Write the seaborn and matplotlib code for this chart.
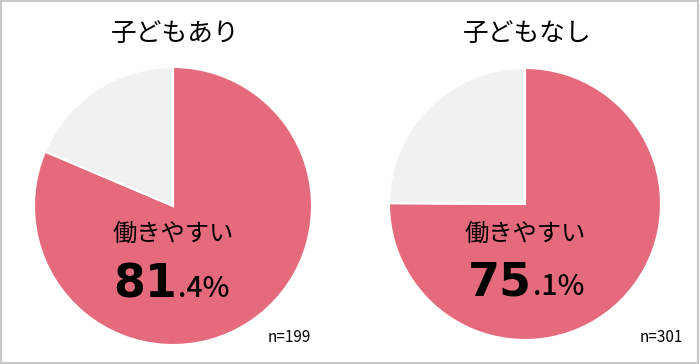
import matplotlib
matplotlib.use("Agg")
import matplotlib.pyplot as plt
import seaborn as sns
from matplotlib.patches import Rectangle

# data
groups = ["子どもあり", "子どもなし"]
yes_share = [81.4, 75.1]
sample_n = [199, 301]
label = "働きやすい"

sns.set_theme(style="white")
plt.rcParams['font.family'] = ['Noto Sans CJK JP', 'DejaVu Sans']

pink = "#E46A7C"
grey = "#F1F1F1"

W, H = 700, 364
fig = plt.figure(figsize=(7, 3.64), dpi=100)
fig.patch.set_facecolor("white")

def fx(px):
    return px / W

def fy(py):
    return 1 - py / H

# pie geometry in pixels: (center x, center y, radius)
geom = [(173, 206, 139), (525, 204, 136)]
n_pos = [(289, 337), (661, 338)]

for i, g in enumerate(groups):
    cx, cy, r = geom[i]
    ax = fig.add_axes([fx(cx - r), fy(cy + r), 2 * r / W, 2 * r / H])
    v = yes_share[i]
    ax.pie([v, 100 - v], colors=[pink, grey], startangle=90, counterclock=False,
           wedgeprops=dict(edgecolor="white", linewidth=1.5), radius=1)
    ax.set_xlim(-1, 1)
    ax.set_ylim(-1, 1)
    ax.set_aspect("equal")
    ax.axis("off")

    # title
    fig.text(fx(cx + 2), fy(34), g, ha="center", va="center", fontsize=18.5, color="black")
    # label
    fig.text(fx(cx), fy(234), label, ha="center", va="center", fontsize=17.5, color="black")
    # percentage split into big integer and small decimal part
    whole, dec = f"{v:.1f}".split(".")
    split_x = cx + 4 + (0 if i == 0 else 3)
    fig.text(fx(split_x), fy(297 - 2 * i), whole, ha="right", va="baseline",
             fontsize=33, fontweight="bold", color="black", family="DejaVu Sans")
    fig.text(fx(split_x + 1), fy(297 - 2 * i), "." + dec + "%", ha="left", va="baseline",
             fontsize=20.5, fontweight="medium", color="black")
    # sample size
    fig.text(fx(n_pos[i][0]), fy(n_pos[i][1]), f"n={sample_n[i]}", ha="center",
             va="center", fontsize=11, color="black")

fig.patches.append(Rectangle((0.001, 0.002), 0.996, 0.995, transform=fig.transFigure,
                             fill=False, edgecolor="#C8C8C8", linewidth=1.5))

fig.savefig("out.png", dpi=100)
